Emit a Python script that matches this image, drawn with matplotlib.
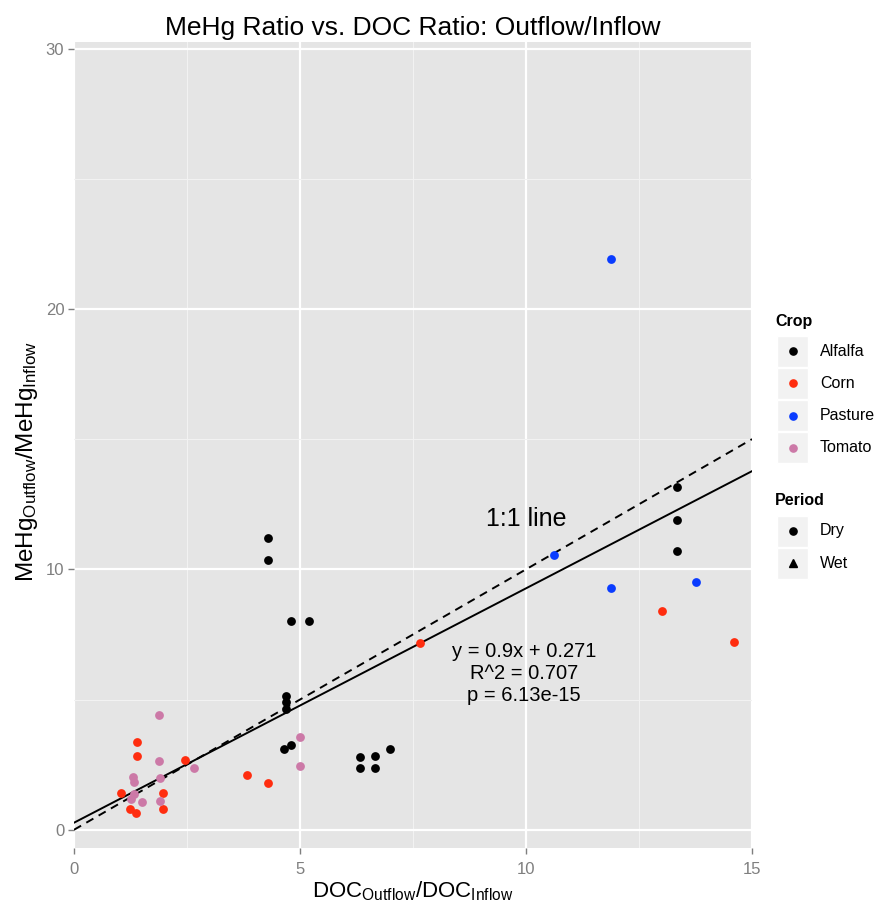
import matplotlib
matplotlib.use("Agg")
import matplotlib.pyplot as plt
from matplotlib.patches import Rectangle
from matplotlib.lines import Line2D
import numpy as np

plt.rcParams["font.family"] = ["Liberation Sans", "DejaVu Sans"]
plt.rcParams["mathtext.fontset"] = "custom"
plt.rcParams["mathtext.rm"] = "Liberation Sans"
plt.rcParams["mathtext.it"] = "Liberation Sans"
plt.rcParams["mathtext.bf"] = "Liberation Sans:bold"

# DOC ratio (x) and MeHg ratio (y), outflow/inflow, by crop
alfalfa_x = [4.29, 4.29, 4.81, 5.19, 4.69, 4.69, 4.69, 4.64, 4.81, 6.32, 6.67, 7.00, 6.32, 6.67, 13.33, 13.33, 13.33]
alfalfa_y = [11.20, 10.34, 8.00, 8.00, 5.12, 4.90, 4.62, 3.12, 3.24, 2.80, 2.84, 3.09, 2.36, 2.38, 13.17, 11.88, 10.69]

corn_x = [1.39, 1.39, 2.45, 1.04, 1.97, 1.23, 1.38, 1.97, 3.83, 4.30, 7.65, 13.00, 14.60]
corn_y = [3.37, 2.84, 2.66, 1.40, 1.43, 0.79, 0.66, 0.78, 2.10, 1.81, 7.18, 8.39, 7.20]

pasture_x = [11.87, 10.63, 11.88, 13.76]
pasture_y = [21.90, 10.57, 9.28, 9.50]

tomato_x = [1.89, 1.89, 2.65, 1.30, 1.33, 1.90, 1.32, 1.25, 1.50, 1.91, 5.01, 5.01]
tomato_y = [4.40, 2.64, 2.38, 2.01, 1.82, 1.99, 1.37, 1.17, 1.06, 1.11, 3.55, 2.45]

crops = ["Alfalfa", "Corn", "Pasture", "Tomato"]
crop_colors = ["#000000", "#ff2d0f", "#0a3cff", "#cc79a7"]
periods = ["Dry", "Wet"]
period_markers = ["o", "^"]

# linear fit reported on the chart
fit_slope = 0.9
fit_intercept = 0.271
fit_r2 = 0.707
fit_p = "6.13e-15"

W, H = 874, 907
fig = plt.figure(figsize=(W / 100, H / 100), dpi=100)

def fx(px):
    return px / W

def fy(py):
    return 1 - py / H

ax = fig.add_axes([fx(74), fy(848), fx(752) - fx(74), fy(42) - fy(848)])
ax.set_facecolor("#e5e5e5")
ax.set_xlim(0, 15)
ax.set_ylim(-0.7, 30.25)

ax.set_xticks([0, 5, 10, 15])
ax.set_yticks([0, 10, 20, 30])
ax.set_xticks([2.5, 7.5, 12.5], minor=True)
ax.set_yticks([5, 15, 25], minor=True)
ax.grid(which="major", color="white", linewidth=1.6)
ax.grid(which="minor", color="#f2f2f2", linewidth=0.8)
ax.set_axisbelow(True)
for s in ax.spines.values():
    s.set_visible(False)
ax.tick_params(which="major", colors="#7f7f7f", labelcolor="#7f7f7f", labelsize=12,
               length=4, width=1)
ax.tick_params(axis="x", which="major", pad=6)
ax.tick_params(axis="y", which="major", pad=3)
ax.tick_params(which="minor", length=0)

xs = np.array([0, 15])
ax.plot(xs, xs, color="black", linewidth=1.4, dashes=(4.2, 3.1), zorder=3)
ax.plot(xs, fit_slope * xs + fit_intercept, color="black", linewidth=1.4, zorder=3)

series = [(alfalfa_x, alfalfa_y), (corn_x, corn_y), (pasture_x, pasture_y), (tomato_x, tomato_y)]
for (sx, sy), c in zip(series, crop_colors):
    ax.scatter(sx, sy, s=40, color=c, marker="o", linewidths=0, zorder=4)

ax.text(10.0, 11.93, "1:1 line", fontsize=18, ha="center", va="center", zorder=5)
ax.text(9.96, 6.0,
        f"y = {fit_slope}x + {fit_intercept}\nR^2 = {fit_r2}\np = {fit_p}",
        fontsize=14.5, ha="center", va="center", linespacing=1.2, zorder=5)

ax.set_title("MeHg Ratio vs. DOC Ratio: Outflow/Inflow", fontsize=19, pad=5)
ax.set_xlabel(r"$\mathregular{DOC_{Outflow}/DOC_{Inflow}}$", fontsize=16, labelpad=2)
ax.set_ylabel(r"$\mathregular{MeHg_{Outflow}/MeHg_{Inflow}}$", fontsize=17.5)
ax.yaxis.set_label_coords(-0.05, 0.48)

# legends: grey key squares with small glyphs
key_x0, key_w, key_h = 777, 31, 31
text_x = 820

def key_row(cy, label, color, marker):
    fig.add_artist(Rectangle((fx(key_x0), fy(cy + key_h / 2)), key_w / W, key_h / H,
                             transform=fig.transFigure, facecolor="#f2f2f2", edgecolor="white",
                             linewidth=1))
    fig.add_artist(Line2D([fx(key_x0 + key_w / 2)], [fy(cy)], transform=fig.transFigure,
                          marker=marker, markersize=5.2 if marker == "o" else 6,
                          color=color, linestyle="none"))
    fig.text(fx(text_x), fy(cy), label, fontsize=11.5, va="center", ha="left")

fig.text(fx(775), fy(321), "Crop", fontsize=11.5, fontweight="bold", va="center", ha="left")
for i, (name, col) in enumerate(zip(crops, crop_colors)):
    key_row(351 + i * 32.3, name, col, "o")

fig.text(fx(775), fy(500), "Period", fontsize=11.5, fontweight="bold", va="center", ha="left")
for i, (name, mk) in enumerate(zip(periods, period_markers)):
    key_row(531 + i * 32.3, name, "black", mk)

fig.savefig("out.png", dpi=100)
